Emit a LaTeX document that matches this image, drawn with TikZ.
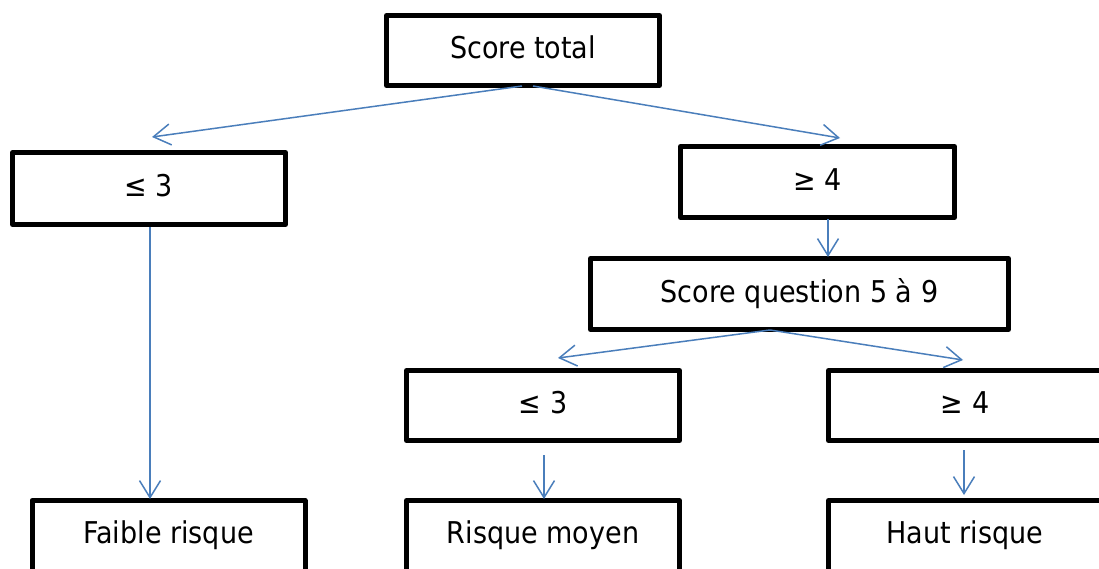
\documentclass[tikz,border=0pt]{standalone}
\usepackage{fontspec}
\setmainfont{DejaVu Sans}[FakeStretch=0.9]
\usetikzlibrary{arrows.meta,calc}

\definecolor{linkblue}{HTML}{4A7EBB}

\tikzset{
  box/.style={draw=black, line width=5pt, line join=round, fill=white,
    minimum width=273pt, minimum height=70pt, inner sep=0pt,
    text height=22pt, text depth=6pt,
    font=\fontsize{30}{36}\selectfont},
  endbox/.style={box, minimum height=76pt, text depth=12pt},
  link/.style={draw=linkblue, line width=1.5pt,
    -{Straight Barb[length=17pt,width=21pt,line width=1.5pt]}}
}

\begin{document}
\begin{tikzpicture}[x=1pt, y=-1pt]
  \clip (0,0) rectangle (1099,568);
  \fill[white] (0,0) rectangle (1099,568);

  % decision boxes
  \node[box] (total) at (523,50.5) {Score total};
  \node[box, minimum height=72pt] (low) at (149,188.5) {≤ 3};
  \node[box, minimum width=274pt, minimum height=71pt] (high) at (817.5,182) {≥ 4};
  \node[box, minimum width=418pt, minimum height=71pt] (sq) at (799.5,294) {Score question 5 à 9};
  \node[box] (qlow) at (543,405.5) {≤ 3};
  \node[box] (qhigh) at (965,405.5) {≥ 4};

  % outcome boxes, running past the lower edge
  \node[endbox] (faible) at (168.5,538.5) {Faible risque};
  \node[endbox] (moyen) at (543,538.5) {Risque moyen};
  \node[endbox] (haut) at (965,538.5) {Haut risque};

  % connectors
  \draw[link] ($(total.south)+(-1,-2)$) -- ($(low.north)+(3,-13)$);
  \draw[link] ($(total.south)+(10,-2)$) -- ($(high.north)+(22.5,-6)$);
  \draw[link] ($(high.south)+(10.5,-1)$) -- ($(sq.north)+(28.5,1)$);
  \draw[link] ($(sq.south)+(-29.5,-2)$) -- ($(qlow.north)+(15,-10)$);
  \draw[link] ($(sq.south)+(-29.5,-2)$) -- ($(qhigh.north)+(-2,-8)$);
  \draw[link] ($(low.south)+(1,0)$) -- ($(faible.north)+(-18.5,1)$);
  \draw[link] ($(qlow.south)+(1,12)$) -- ($(moyen.north)+(1,1)$);
  \draw[link] ($(qhigh.south)+(-1,7)$) -- ($(haut.north)+(-1,-3)$);
\end{tikzpicture}
\end{document}
